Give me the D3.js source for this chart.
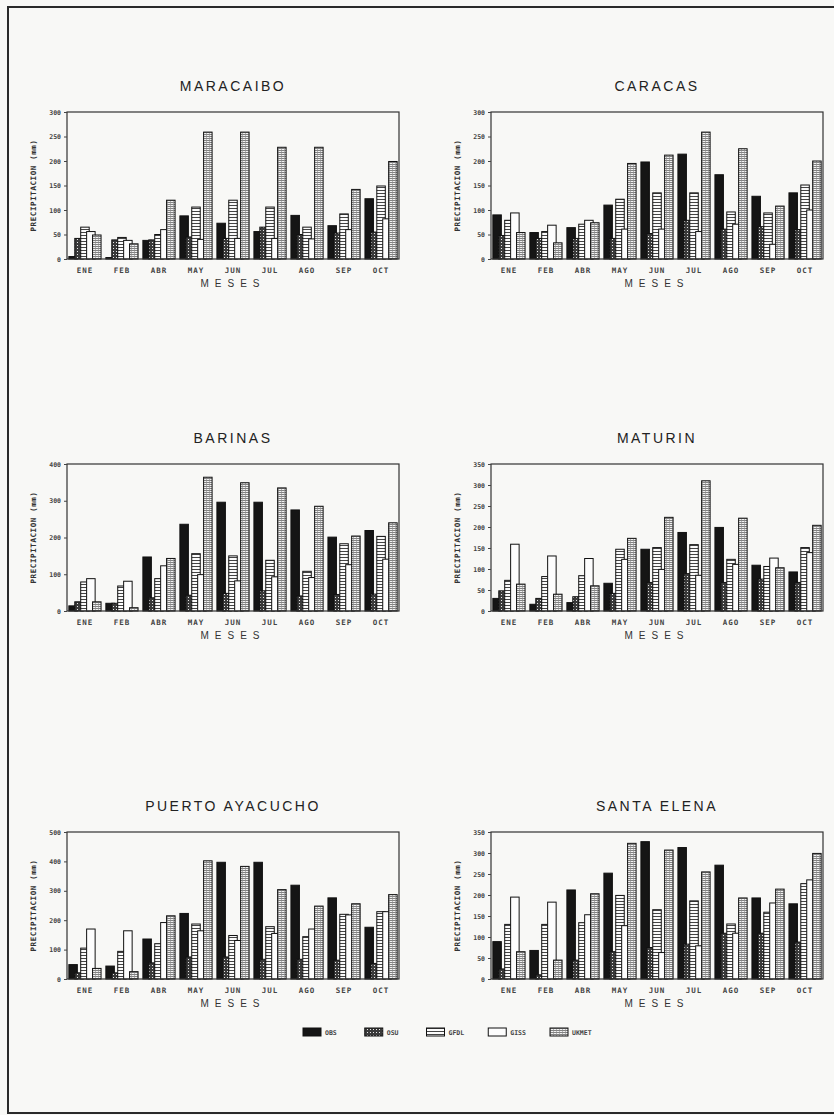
<!DOCTYPE html>
<html>
<head>
<meta charset="utf-8">
<script src="https://cdn.jsdelivr.net/npm/d3@7"></script>
<style>
  body { margin: 0; background: #f8f8f6; }
  svg { display: block; }
</style>
</head>
<body>
<div id="chart"></div>
<script>
// months and series
var months = ["ENE", "FEB", "ABR", "MAY", "JUN", "JUL", "AGO", "SEP", "OCT"];
var series = ["OBS", "OSU", "GFDL", "GISS", "UKMET"];
var stations = ["MARACAIBO", "CARACAS", "BARINAS", "MATURIN", "PUERTO AYACUCHO", "SANTA ELENA"];
var yMax = [300, 300, 400, 350, 500, 350];
var yStep = [50, 50, 100, 50, 100, 50];

// precipitation (mm), one row per series: OBS, OSU, GFDL, GISS, UKMET
var maracaibo = [
  [5, 3, 38, 88, 73, 56, 89, 68, 123],
  [42, 39, 39, 45, 42, 65, 50, 53, 55],
  [65, 44, 50, 106, 120, 106, 65, 92, 149],
  [56, 38, 60, 40, 42, 42, 41, 60, 82],
  [49, 31, 120, 259, 259, 228, 228, 142, 199]
];
var caracas = [
  [90, 54, 64, 110, 198, 214, 172, 128, 135],
  [48, 42, 42, 42, 52, 79, 61, 66, 60],
  [79, 56, 71, 122, 135, 135, 96, 94, 151],
  [94, 69, 79, 61, 61, 56, 71, 30, 100],
  [54, 33, 74, 195, 212, 259, 225, 108, 200]
];
var barinas = [
  [14, 21, 147, 236, 296, 296, 275, 201, 219],
  [25, 21, 36, 43, 48, 55, 41, 45, 46],
  [79, 68, 88, 156, 150, 138, 108, 183, 203],
  [88, 81, 123, 99, 82, 93, 91, 126, 141],
  [25, 9, 143, 364, 349, 335, 285, 204, 240]
];
var maturin = [
  [30, 16, 20, 66, 147, 187, 199, 109, 93],
  [48, 30, 34, 42, 68, 89, 68, 76, 68],
  [73, 82, 84, 147, 151, 158, 123, 106, 151],
  [159, 131, 125, 123, 99, 85, 111, 126, 139],
  [64, 40, 60, 173, 223, 310, 221, 103, 204]
];
var puertoAyacucho = [
  [49, 44, 136, 223, 397, 397, 319, 276, 176],
  [21, 21, 55, 75, 75, 67, 67, 64, 53],
  [105, 94, 120, 187, 148, 178, 144, 220, 229],
  [170, 164, 192, 164, 131, 155, 170, 218, 229],
  [36, 25, 215, 402, 383, 304, 248, 256, 287]
];
var santaElena = [
  [89, 68, 212, 252, 327, 313, 271, 193, 179],
  [24, 10, 45, 65, 75, 83, 109, 109, 88],
  [130, 130, 134, 199, 165, 186, 131, 159, 227],
  [195, 183, 153, 127, 63, 79, 109, 181, 236],
  [65, 45, 203, 323, 307, 255, 193, 214, 299]
];
var panelData = [maracaibo, caracas, barinas, maturin, puertoAyacucho, santaElena];

var W = 834, H = 1115;
var colX = [67, 491], rowY = [112, 464, 832];
var pw = 332, ph = 147;

var svg = d3.select("#chart").append("svg")
  .attr("width", W).attr("height", H);

// hatch patterns
var defs = svg.append("defs");
var pOSU = defs.append("pattern").attr("id", "p-OSU")
  .attr("patternUnits", "userSpaceOnUse").attr("width", 3).attr("height", 3);
pOSU.append("rect").attr("width", 3).attr("height", 3).attr("fill", "#3a3a3a");
pOSU.append("rect").attr("x", 1).attr("y", 1).attr("width", 1).attr("height", 1).attr("fill", "#e8e8e8");

var pGFDL = defs.append("pattern").attr("id", "p-GFDL")
  .attr("patternUnits", "userSpaceOnUse").attr("width", 4).attr("height", 3);
pGFDL.append("rect").attr("width", 4).attr("height", 3).attr("fill", "#fbfbfb");
pGFDL.append("line").attr("x1", 0).attr("x2", 4).attr("y1", 0.5).attr("y2", 0.5)
  .attr("stroke", "#444").attr("stroke-width", 1);

var pUK = defs.append("pattern").attr("id", "p-UKMET")
  .attr("patternUnits", "userSpaceOnUse").attr("width", 3).attr("height", 2);
pUK.append("rect").attr("width", 3).attr("height", 2).attr("fill", "#f2f2f2");
pUK.append("line").attr("x1", 0).attr("x2", 3).attr("y1", 0.5).attr("y2", 0.5)
  .attr("stroke", "#666").attr("stroke-width", 0.8);
pUK.append("line").attr("x1", 1.5).attr("x2", 1.5).attr("y1", 0).attr("y2", 2)
  .attr("stroke", "#888").attr("stroke-width", 0.6);

var fills = {
  OBS: "#151515",
  OSU: "url(#p-OSU)",
  GFDL: "url(#p-GFDL)",
  GISS: "#fdfdfd",
  UKMET: "url(#p-UKMET)"
};

// page frame
svg.append("rect")
  .attr("x", 8).attr("y", 7).attr("width", 840).attr("height", 1106)
  .attr("fill", "none").attr("stroke", "#2a2a2a").attr("stroke-width", 2);

stations.forEach(function(name, i) {
  var x0 = colX[i % 2], y0 = rowY[Math.floor(i / 2)];
  var vals = panelData[i];
  var g = svg.append("g").attr("transform", "translate(" + x0 + "," + y0 + ")");

  var x = d3.scaleBand().domain(months).range([0, pw])
    .paddingInner(0.13).paddingOuter(0.05);
  var barW = 8.5;
  var xs = d3.scalePoint().domain(series).range([0, x.bandwidth() - barW]);
  var y = d3.scaleLinear().domain([0, yMax[i]]).range([ph, 0]);

  // title
  g.append("text")
    .attr("x", pw / 2).attr("y", -21)
    .attr("text-anchor", "middle")
    .style("font-family", "Liberation Sans, Arial, sans-serif")
    .style("font-size", "14px")
    .style("letter-spacing", "2.5px")
    .attr("fill", "#222")
    .text(name);

  // bars
  series.forEach(function(s, k) {
    g.append("g").selectAll("rect")
      .data(months.map(function(m, j) { return {m: m, v: vals[k][j]}; }))
      .enter().append("rect")
        .attr("x", function(d) { return x(d.m) + xs(s); })
        .attr("y", function(d) { return y(d.v); })
        .attr("width", barW)
        .attr("height", function(d) { return ph - y(d.v); })
        .attr("fill", fills[s])
        .attr("stroke", "#111")
        .attr("stroke-width", 1);
  });

  // frame of plot
  g.append("rect").attr("width", pw).attr("height", ph)
    .attr("fill", "none").attr("stroke", "#333").attr("stroke-width", 1.2);

  // y axis
  var ya = g.append("g")
    .call(d3.axisLeft(y).tickValues(d3.range(0, yMax[i] + 1, yStep[i])).tickSize(3).tickPadding(3));
  ya.select(".domain").remove();
  ya.selectAll("text")
    .style("font-family", "DejaVu Sans Mono, monospace")
    .style("font-size", "6.5px")
    .style("font-weight", "bold")
    .attr("fill", "#444");
  ya.selectAll("line").attr("stroke", "#444");

  // x axis
  var xa = g.append("g").attr("transform", "translate(0," + ph + ")")
    .call(d3.axisBottom(x).tickSize(0).tickPadding(9));
  xa.select(".domain").remove();
  xa.selectAll("text")
    .style("font-family", "DejaVu Sans Mono, monospace")
    .style("font-size", "7.5px")
    .style("font-weight", "bold")
    .style("letter-spacing", "1px")
    .attr("fill", "#444");

  // axis titles
  g.append("text")
    .attr("x", pw / 2).attr("y", ph + 28)
    .attr("text-anchor", "middle")
    .style("font-family", "Liberation Sans, Arial, sans-serif")
    .style("font-size", "10px")
    .style("letter-spacing", "6px")
    .attr("fill", "#333")
    .text("MESES");

  g.append("text")
    .attr("transform", "rotate(-90)")
    .attr("x", -ph / 2).attr("y", -31)
    .attr("text-anchor", "middle")
    .style("font-family", "DejaVu Sans Mono, monospace")
    .style("font-size", "7.5px")
    .style("font-weight", "bold")
    .style("letter-spacing", "0.6px")
    .attr("fill", "#333")
    .text("PRECIPITACION (mm)");
});

// legend
var lx = d3.scalePoint().domain(series).range([303, 550]);
var leg = svg.append("g").attr("transform", "translate(0,1028)");
series.forEach(function(s) {
  leg.append("rect")
    .attr("x", lx(s)).attr("y", 0).attr("width", 18).attr("height", 8)
    .attr("fill", fills[s]).attr("stroke", "#111").attr("stroke-width", 1);
  leg.append("text")
    .attr("x", lx(s) + 22).attr("y", 7)
    .style("font-family", "DejaVu Sans Mono, monospace")
    .style("font-size", "6.5px")
    .style("font-weight", "bold")
    .attr("fill", "#444")
    .text(s);
});
</script>
</body>
</html>
